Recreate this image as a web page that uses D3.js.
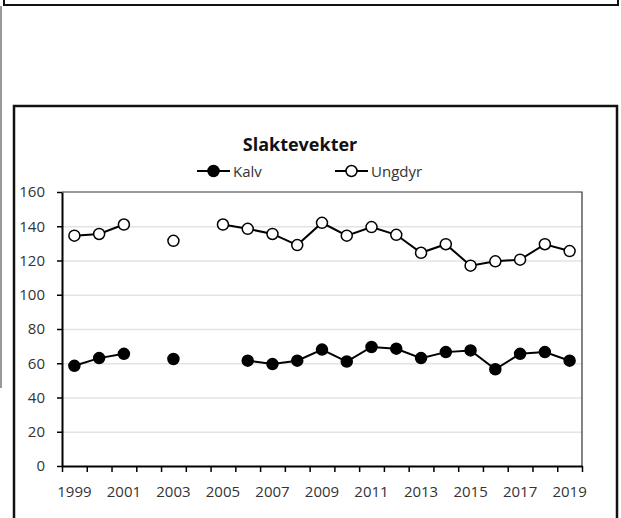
<!DOCTYPE html>
<html>
<head>
<meta charset="utf-8">
<script src="https://d3js.org/d3.v7.min.js"></script>
<style>
body { margin: 0; background: #fff; }
text { font-family: "Open Sans", "DejaVu Sans Condensed", sans-serif; }
</style>
</head>
<body>
<svg width="621" height="518"></svg>
<script>
// data
var years = d3.range(1999, 2020);
var kalv = [58.5, 63, 65.5, null, 62.5, null, null, 61.5, 59.5, 61.5, 68, 61, 69.5, 68.5, 63, 66.5, 67.5, 56.5, 65.5, 66.5, 61.5];
var ungdyr = [134.5, 135.5, 141, null, 131.5, null, 141, 138.5, 135.5, 129, 142, 134.5, 139.5, 135, 124.5, 129.5, 117, 119.5, 120.5, 129.5, 125.5];
var yTicks = [0, 20, 40, 60, 80, 100, 120, 140, 160];
var legendKeys = ["Kalv", "Ungdyr"];

var svg = d3.select("svg");

// frames around the chart (from the document it sits in)
svg.append("rect").attr("x", 4).attr("y", -10).attr("width", 614).attr("height", 15)
    .attr("fill", "none").attr("stroke", "#111").attr("stroke-width", 2);
svg.append("line").attr("x1", 1).attr("x2", 1).attr("y1", 6).attr("y2", 388)
    .attr("stroke", "#999").attr("stroke-width", 2);
svg.append("rect").attr("x", 14).attr("y", 106).attr("width", 603).attr("height", 430)
    .attr("fill", "none").attr("stroke", "#111").attr("stroke-width", 2.5);

var pLeft = 62, pRight = 582, pTop = 192, pBottom = 466;

var x = d3.scaleBand().domain(years).range([pLeft, pRight]);
var xEdge = d3.scaleLinear().domain([0, years.length]).range([pLeft, pRight]);
var y = d3.scaleLinear().domain([0, 160]).range([pBottom, pTop]);

// gridlines
svg.append("g")
    .attr("transform", "translate(" + pLeft + ",0)")
    .call(d3.axisLeft(y).tickValues(yTicks.slice(1, -1)).tickSize(-(pRight - pLeft)).tickFormat(""))
    .call(function (g) { g.select(".domain").remove(); })
    .selectAll("line").attr("stroke", "#e3e3e3").attr("stroke-width", 1.5);

// plot area border top/right
svg.append("path")
    .attr("d", "M" + pLeft + "," + pTop + "H" + pRight + "V" + pBottom)
    .attr("fill", "none").attr("stroke", "#333").attr("stroke-width", 1.2);

// y axis
var yAxis = svg.append("g")
    .attr("transform", "translate(" + pLeft + ",0)")
    .call(d3.axisLeft(y).tickValues(yTicks).tickSize(5).tickSizeOuter(0).tickPadding(12));
yAxis.select(".domain").attr("stroke", "#000").attr("stroke-width", 2);
yAxis.selectAll("line").attr("stroke", "#000").attr("stroke-width", 1.5);
yAxis.selectAll("text").style("font-size", "15px").attr("fill", "#333");

// x axis: ticks on category boundaries
var xTicks = svg.append("g")
    .attr("transform", "translate(0," + pBottom + ")")
    .call(d3.axisBottom(xEdge).tickValues(d3.range(years.length + 1)).tickSize(6).tickSizeOuter(0).tickFormat(""));
xTicks.select(".domain").attr("stroke", "#000").attr("stroke-width", 2);
xTicks.selectAll("line").attr("stroke", "#000").attr("stroke-width", 1.5);

// x labels at category centres, every second year
var xLabels = svg.append("g")
    .attr("transform", "translate(0," + pBottom + ")")
    .call(d3.axisBottom(x).tickValues(years.filter(function (d) { return d % 2 === 1; })).tickSize(0).tickPadding(20));
xLabels.select(".domain").remove();
xLabels.selectAll("text").style("font-size", "15px").attr("fill", "#333");

// lines
var line = d3.line()
    .defined(function (d) { return d !== null; })
    .x(function (d, i) { return x(years[i]) + x.bandwidth() / 2; })
    .y(function (d) { return y(d); });

[kalv, ungdyr].forEach(function (series) {
    svg.append("path").datum(series)
        .attr("d", line)
        .attr("fill", "none").attr("stroke", "#000").attr("stroke-width", 2);
});

function dots(series, fill) {
    svg.append("g").selectAll("circle")
        .data(series.map(function (v, i) { return [years[i], v]; }).filter(function (d) { return d[1] !== null; }))
        .enter().append("circle")
        .attr("cx", function (d) { return x(d[0]) + x.bandwidth() / 2; })
        .attr("cy", function (d) { return y(d[1]); })
        .attr("r", 5.5)
        .attr("fill", fill).attr("stroke", "#000").attr("stroke-width", 1.5);
}
dots(kalv, "#000");
dots(ungdyr, "#fff");

// title
svg.append("text")
    .attr("x", 300).attr("y", 151)
    .attr("text-anchor", "middle")
    .style("font-size", "18px").style("font-weight", "bold")
    .attr("fill", "#111")
    .text("Slaktevekter");

// legend
var legendX = [197, 335];
var legend = svg.selectAll(".lineLegend").data(legendKeys)
    .enter().append("g")
    .attr("class", "lineLegend")
    .attr("transform", function (d, i) { return "translate(" + legendX[i] + ",171)"; });
legend.append("line").attr("x1", 0).attr("x2", 33).attr("stroke", "#000").attr("stroke-width", 2);
legend.append("circle").attr("cx", 16.5).attr("r", 5.5)
    .attr("fill", function (d, i) { return i === 0 ? "#000" : "#fff"; })
    .attr("stroke", "#000").attr("stroke-width", 1.5);
legend.append("text").attr("x", 36).attr("y", 6)
    .style("font-size", "15px").attr("fill", "#333")
    .text(function (d) { return d; });
</script>
</body>
</html>
